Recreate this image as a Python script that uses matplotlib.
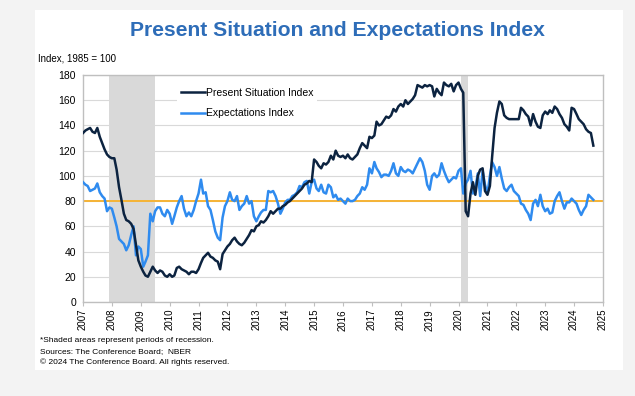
import matplotlib
matplotlib.use("Agg")
import matplotlib.pyplot as plt
import matplotlib.dates as mdates
import matplotlib.patches as mpatches
import pandas as pd

plt.rcParams['font.family'] = ['Liberation Sans', 'DejaVu Sans']

# monthly data, Jan 2007 - Sep 2024 (Index, 1985 = 100)
present_situation = [
    134, 136, 137, 138, 135, 134, 138, 131, 126, 121, 117, 115,  # 2007
    114, 114, 105, 91, 81, 70, 65, 64, 62, 58, 45, 33,  # 2008
    28, 24, 21, 20, 24, 28, 25, 23, 25, 24, 21, 20,  # 2009
    22, 20, 21, 27, 28, 26, 25, 24, 22, 24, 24, 23,  # 2010
    26, 31, 35, 37, 39, 36, 35, 33, 32, 26, 38, 41,  # 2011
    44, 46, 49, 51, 48, 46, 45, 47, 50, 53, 57, 56,  # 2012
    60, 61, 64, 63, 65, 68, 72, 70, 72, 74, 74, 76,  # 2013
    77, 79, 80, 82, 84, 86, 88, 90, 93, 94, 96, 95,  # 2014
    113, 111, 108, 106, 110, 109, 111, 116, 113, 120, 116, 115,  # 2015
    116, 114, 117, 114, 113, 115, 117, 122, 126, 124, 122, 131,  # 2016
    130, 132, 143, 140, 141, 144, 147, 146, 148, 153, 151, 155,  # 2017
    157, 155, 160, 157, 159, 161, 164, 172, 171, 170, 172, 171,  # 2018
    172, 171, 163, 169, 166, 164, 174, 172, 171, 173, 167, 172,  # 2019
    174, 169, 166, 72, 68, 86, 95, 85, 100, 105, 106, 88,  # 2020
    85, 92, 115, 138, 150, 159, 157, 148, 146, 145, 145, 145,  # 2021
    145, 145, 154, 152, 149, 147, 140, 149, 143, 139, 138, 148,  # 2022
    151, 149, 152, 150, 155, 153, 149, 146, 141, 139, 136, 154,  # 2023
    153, 149, 145, 143, 141, 137, 135, 134, 124,  # 2024
]
expectations = [
    95, 93, 92, 88, 89, 90, 94, 87, 84, 82, 72, 75,  # 2007
    74, 67, 60, 50, 48, 46, 41, 45, 53, 60, 37, 44,  # 2008
    42, 28, 32, 37, 70, 64, 72, 75, 75, 70, 68, 73,  # 2009
    70, 62, 68, 75, 80, 84, 74, 68, 71, 68, 73, 80,  # 2010
    86, 97, 86, 87, 76, 73, 65, 56, 51, 49, 67, 76,  # 2011
    80, 87, 81, 80, 84, 73, 76, 78, 84, 78, 80, 68,  # 2012
    64, 68, 71, 73, 73, 88, 87, 88, 84, 78, 70, 74,  # 2013
    79, 81, 81, 84, 85, 87, 92, 91, 95, 96, 86, 95,  # 2014
    97, 90, 88, 93, 87, 86, 93, 91, 83, 85, 81, 82,  # 2015
    80, 78, 82, 80, 80, 81, 84, 86, 91, 89, 93, 106,  # 2016
    102, 111, 106, 103, 99, 101, 101, 100, 104, 110, 102, 100,  # 2017
    107, 104, 103, 105, 104, 102, 106, 110, 114, 111, 104, 93,  # 2018
    89, 100, 102, 99, 101, 110, 104, 99, 95, 97, 99, 98,  # 2019
    104, 106, 86, 94, 97, 104, 86, 90, 102, 84, 104, 93,  # 2020
    86, 100, 111, 107, 100, 107, 98, 90, 88, 91, 93, 88,  # 2021
    86, 84, 78, 77, 73, 70, 65, 78, 81, 76, 85, 76,  # 2022
    72, 74, 70, 71, 80, 84, 87, 80, 74, 79, 79, 82,  # 2023
    80, 78, 73, 69, 73, 76, 85, 83, 81,  # 2024
]
months = pd.date_range('2007-01-01', periods=len(present_situation), freq='MS')
recessions = [('2007-12-01', '2009-07-01'), ('2020-02-01', '2020-04-30')]
reference_level = 80
years = list(range(2007, 2026))

fig = plt.figure(figsize=(6.35, 3.96), dpi=100, facecolor='#f3f3f3')

# white panel behind the chart
fig.patches.append(mpatches.Rectangle((0.055, 0.066), 0.926, 0.909, transform=fig.transFigure,
                                      facecolor='white', edgecolor='none', zorder=-1))

ax = fig.add_axes([0.1307, 0.2374, 0.8189, 0.5732])
ax.set_zorder(2)
ax.set_facecolor('white')

for start, end in recessions:
    ax.axvspan(pd.Timestamp(start), pd.Timestamp(end), color='#d9d9d9', lw=0, zorder=1)

ax.axhline(reference_level, color='#f5b335', lw=1.4, zorder=2)
ax.plot(months, present_situation, color='#0c2340', lw=1.8, label='Present Situation Index', zorder=4)
ax.plot(months, expectations, color='#2f8bef', lw=1.8, label='Expectations Index', zorder=3)

ax.set_ylim(0, 180)
ax.set_yticks(range(0, 181, 20))
ax.set_xlim(pd.Timestamp('2007-01-01'), pd.Timestamp('2025-01-01'))
ax.set_xticks([pd.Timestamp(f'{y}-01-01') for y in years])
ax.xaxis.set_major_formatter(mdates.DateFormatter('%Y'))
ax.grid(axis='y', color='#d9d9d9', lw=0.8, zorder=0)
ax.set_axisbelow(True)
for s in ax.spines.values():
    s.set_color('#bfbfbf')
    s.set_linewidth(1.0)
ax.tick_params(axis='x', labelrotation=90, labelsize=7, length=3, color='#bfbfbf', pad=2)
ax.tick_params(axis='y', labelsize=7.5, length=0, pad=5)

leg = ax.legend(loc='upper left', bbox_to_anchor=(0.17, 0.985), fontsize=7.5, frameon=True,
                facecolor='white', edgecolor='none', framealpha=1, handlelength=2.3,
                handletextpad=0.1, labelspacing=1.0, borderpad=0.4)
leg.get_frame().set_boxstyle('square', pad=0)
leg.set_zorder(5)

fig.text(0.532, 0.924, 'Present Situation and Expectations Index', ha='center', va='center',
         fontsize=15.2, fontweight='bold', color='#2e6db8')
fig.text(0.06, 0.853, 'Index, 1985 = 100', ha='left', va='center', fontsize=7)
fig.text(0.063, 0.139, '*Shaded areas represent periods of recession.', fontsize=6, va='center')
fig.text(0.063, 0.111, 'Sources: The Conference Board;  NBER', fontsize=6, va='center')
fig.text(0.063, 0.086, '\u00a9 2024 The Conference Board. All rights reserved.', fontsize=6, va='center')

fig.savefig('out.png', dpi=100, facecolor=fig.get_facecolor())
